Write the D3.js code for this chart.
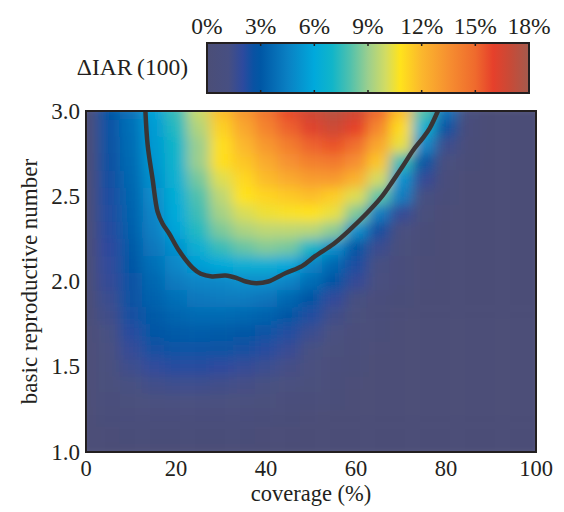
<!DOCTYPE html>
<html>
<head>
<meta charset="utf-8">
<script src="https://cdn.jsdelivr.net/npm/d3@7"></script>
<style>
body{margin:0;background:#fff;}
text{font-family:"Liberation Serif","Times New Roman",serif;fill:#231f20;}
</style>
</head>
<body>
<script>
// grid: coverage (%) columns, R0 rows (top to bottom)
var coverage=[0,5,10,15,20,25,30,35,40,45,50,55,60,65,70,75,80,85,90,95,100];
var r0=[3.0,2.9,2.8,2.7,2.6,2.5,2.4,2.3,2.2,2.1,2.0,1.9,1.8,1.7,1.6,1.5,1.4,1.3,1.2,1.1,1.0];
var iar=[
  [0,2.8,4.0,5.7,7.6,9.8,11.8,13.2,14.6,15.8,16.8,17.4,16.8,15.0,11.8,8.0,4.0,0.8,0,0,0],
  [0,2.7,3.9,5.5,7.3,9.4,11.3,12.6,14.0,15.2,16.2,16.8,16.0,13.8,11.0,6.6,2.6,0.5,0,0,0],
  [0,2.6,3.8,5.4,7.0,9.0,10.9,12.0,13.2,14.2,15.2,15.6,14.8,12.6,10.4,4.8,1.5,0.3,0,0,0],
  [0,2.5,3.7,5.3,6.8,9.0,10.9,11.6,12.5,13.4,14.1,14.4,13.5,11.6,7.6,3.0,0.9,0.2,0,0,0],
  [0,2.4,3.6,5.1,6.6,8.5,10.2,11.1,11.9,12.5,13.0,13.1,12.2,10.0,5.2,1.8,0.5,0,0,0,0],
  [0,2.3,3.5,4.9,6.3,8.0,9.6,10.8,11.2,11.5,11.8,11.4,10.2,8.2,4.4,1.2,0.3,0,0,0,0],
  [0,2.2,3.4,4.7,6.1,7.7,9.2,10.1,10.5,10.7,10.8,10.4,8.6,4.4,1.8,0.6,0.1,0,0,0,0],
  [0,2.1,3.3,4.5,5.8,7.3,8.6,9.3,9.6,9.6,9.5,8.8,5.0,2.4,1.0,0.3,0,0,0,0,0],
  [0,2.0,3.1,4.2,5.1,6.5,7.6,8.3,8.7,8.5,7.0,5.0,3.0,1.6,0.7,0.2,0,0,0,0,0],
  [0,1.9,2.9,3.9,4.8,5.6,6.1,6.4,6.4,6.0,4.7,3.6,2.3,1.2,0.5,0.1,0,0,0,0,0],
  [0,1.8,2.7,3.6,4.3,4.7,4.8,5.0,5.0,4.6,3.8,2.8,1.8,1.0,0.4,0.1,0,0,0,0,0],
  [0,1.6,2.6,3.4,3.9,4.2,4.3,4.3,4.1,3.6,2.8,1.9,1.1,0.5,0.2,0,0,0,0,0,0],
  [0,1.4,2.4,3.1,3.5,3.7,3.7,3.6,3.4,2.9,2.2,1.4,0.7,0.3,0.1,0,0,0,0,0,0],
  [0,1.2,2.1,2.8,3.1,3.2,3.1,3.0,2.7,2.2,1.6,1.0,0.5,0.2,0,0,0,0,0,0,0],
  [0,1.0,1.8,2.4,2.7,2.7,2.6,2.4,2.1,1.7,1.2,0.7,0.3,0.1,0,0,0,0,0,0,0],
  [0,0.8,1.5,1.9,2.1,2.1,2.0,1.8,1.6,1.3,0.9,0.5,0.2,0,0,0,0,0,0,0,0],
  [0,0.6,1.1,1.4,1.5,1.5,1.4,1.3,1.1,0.9,0.6,0.3,0.1,0,0,0,0,0,0,0,0],
  [0,0.4,0.7,0.9,1.0,1.0,0.9,0.8,0.7,0.5,0.3,0.2,0,0,0,0,0,0,0,0,0],
  [0,0.3,0.4,0.5,0.5,0.5,0.5,0.4,0.3,0.2,0.1,0,0,0,0,0,0,0,0,0,0],
  [0,0.1,0.2,0.2,0.2,0.2,0.2,0.2,0.1,0.1,0,0,0,0,0,0,0,0,0,0,0],
  [0,0,0,0,0,0,0,0,0,0,0,0,0,0,0,0,0,0,0,0,0]
];

// the dark contour line
var contourCov=[13.2,13.7,14.8,15.9,17.0,18.5,20.7,23.7,25.5,28.0,31.0,33.5,35.5,37.8,40.5,44.4,48.0,51.0,55.0,58.5,62.4,65.5,68.2,70.5,72.7,74.8,76.4,78.2];
var contourR=[3.0,2.8,2.6,2.41,2.34,2.28,2.18,2.08,2.045,2.03,2.035,2.02,2.0,1.99,2.0,2.05,2.09,2.15,2.22,2.30,2.40,2.49,2.59,2.68,2.77,2.84,2.90,3.0];

var xTicks=[0,20,40,60,80,100];
var yTicks=[1.0,1.5,2.0,2.5,3.0];
var barTicks=[0,3,6,9,12,15,18];

var stopVals=[0,1.2,2.0,2.6,3.0,4.5,6.0,7.0,8.0,9.0,10.0,10.8,12.0,13.5,15.0,16.0,17.0,18.0];
var stopCols=["#4b4e77","#474f82","#2d4a9e","#0a52a3","#0057a5","#0a80c3","#00a9dc","#11b5c9","#50c1ad","#9bcf8e","#d3dc62","#ffe31c","#fbb72d","#f68f30","#ef6a2d","#e6402b","#c64b38","#a45a4d"];

var W=564,H=512;
var pL=86,pT=111,pR=536,pB=452;

var svg=d3.select('body').append('svg').attr('width',W).attr('height',H);

var x=d3.scaleLinear().domain([0,100]).range([pL,pR]);
var y=d3.scaleLinear().domain([1,3]).range([pB,pT]);
var color=d3.scaleLinear().domain(stopVals).range(stopCols).clamp(true);

var defs=svg.append('defs');
var filt=defs.append('filter').attr('id','smooth')
  .attr('filterUnits','userSpaceOnUse')
  .attr('x',pL).attr('y',pT).attr('width',pR-pL).attr('height',pB-pT);
filt.append('feGaussianBlur').attr('stdDeviation','6.5 6').attr('edgeMode','duplicate');

// heat cells
var dx=(x(5)-x(0))/2, dy=(y(1)-y(1.1))/2;
var cells=[];
iar.forEach(function(row,i){
  row.forEach(function(v,j){ cells.push({c:coverage[j],r:r0[i],v:v}); });
});
svg.append('g').attr('filter','url(#smooth)')
  .selectAll('rect').data(cells).enter().append('rect')
  .attr('x',function(d){return x(d.c)-dx;})
  .attr('y',function(d){return y(d.r)-dy;})
  .attr('width',dx*2+0.5)
  .attr('height',dy*2+0.5)
  .attr('fill',function(d){return color(d.v);});

// contour
var pts=contourCov.map(function(c,i){return [c,contourR[i]];});
svg.append('path').datum(pts)
  .attr('d',d3.line().x(function(d){return x(d[0]);}).y(function(d){return y(d[1]);}).curve(d3.curveCatmullRom))
  .attr('fill','none').attr('stroke','#3a3535').attr('stroke-width',4.5)
  .attr('stroke-linejoin','round');

// frame
svg.append('rect').attr('x',pL).attr('y',pT).attr('width',pR-pL).attr('height',pB-pT)
  .attr('fill','none').attr('stroke','#231f20').attr('stroke-width',2);

// axes labels
svg.selectAll('.xt').data(xTicks).enter().append('text')
  .attr('x',function(d){return x(d);}).attr('y',476)
  .attr('text-anchor','middle').attr('font-size',22.5).text(function(d){return d;});
svg.selectAll('.yt').data(yTicks).enter().append('text')
  .attr('x',80).attr('y',function(d){return y(d)+7.5;})
  .attr('text-anchor','end').attr('font-size',23).text(function(d){return d.toFixed(1);});
svg.append('text').attr('x',(pL+pR)/2).attr('y',501).attr('text-anchor','middle')
  .attr('font-size',22.5).text('coverage (%)');
svg.append('text').attr('transform','translate(37,'+((pT+pB)/2)+') rotate(-90)')
  .attr('text-anchor','middle').attr('font-size',23).text('basic reproductive number');

// colour bar
var bx=d3.scaleLinear().domain([0,18]).range([207,529]);
var by0=43,by1=93;
var grad=defs.append('linearGradient').attr('id','cbar').attr('x1','0%').attr('x2','100%');
grad.selectAll('stop').data(stopVals).enter().append('stop')
  .attr('offset',function(d){return (d/18*100)+'%';})
  .attr('stop-color',function(d,i){return stopCols[i];});
svg.append('rect').attr('x',bx(0)).attr('y',by0).attr('width',bx(18)-bx(0)).attr('height',by1-by0)
  .attr('fill','url(#cbar)').attr('stroke','#231f20').attr('stroke-width',2);
svg.selectAll('.bt').data(barTicks.slice(1,-1)).enter().append('path')
  .attr('d',function(d){return 'M'+bx(d)+','+by0+'v3M'+bx(d)+','+by1+'v-3';})
  .attr('stroke','#231f20').attr('stroke-width',1.5);
svg.selectAll('.bl').data(barTicks).enter().append('text')
  .attr('x',function(d){return bx(d);}).attr('y',34)
  .attr('text-anchor','middle').attr('font-size',23.5).text(function(d){return d+'%';});
svg.append('text').attr('x',188).attr('y',75).attr('text-anchor','end')
  .attr('font-size',23.5).text('\u0394IAR\u2009(100)');
</script>
</body>
</html>
